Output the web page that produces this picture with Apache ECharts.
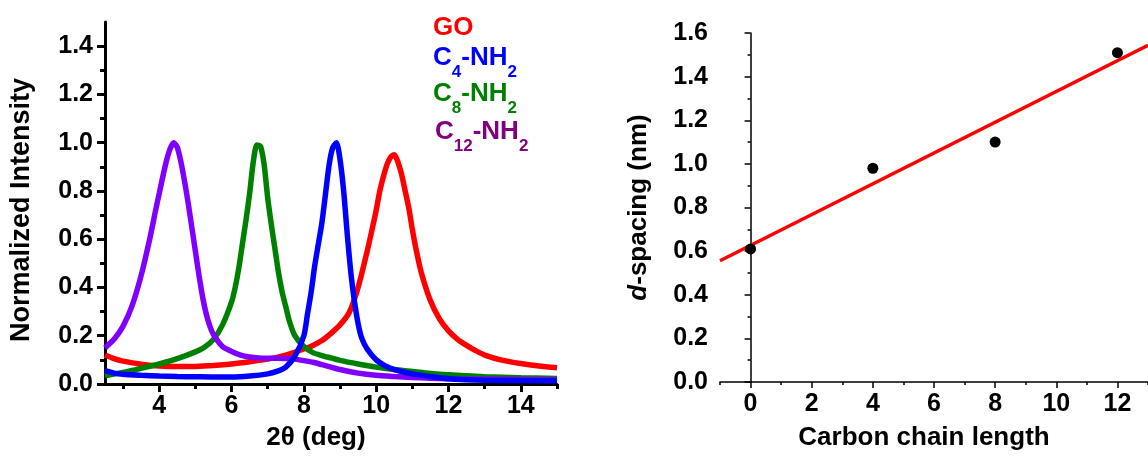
<!DOCTYPE html>
<html>
<head>
<meta charset="utf-8">
<script src="https://cdn.jsdelivr.net/npm/echarts@6/dist/echarts.min.js"></script>
<style>
html,body{margin:0;padding:0;background:#fff;}
#c{width:1148px;height:456px;}
</style>
</head>
<body>
<div id="c"></div>
<script>
// ---------- Left panel: XRD patterns (2θ, normalized intensity) ----------
const GO = [[2.5,0.12],[2.75,0.105],[3.0,0.095],[3.5,0.082],[4.0,0.075],[4.5,0.072],[5.0,0.073],[5.5,0.077],[6.0,0.083],[6.5,0.092],[7.0,0.103],[7.5,0.12],[8.0,0.145],[8.25,0.16],[8.5,0.18],[8.75,0.21],[9.0,0.245],[9.25,0.295],[9.5,0.4],[9.75,0.55],[9.9,0.65],[10.0,0.72],[10.1,0.8],[10.2,0.86],[10.3,0.91],[10.4,0.94],[10.5,0.95],[10.6,0.92],[10.7,0.87],[10.8,0.8],[10.9,0.73],[11.0,0.64],[11.1,0.56],[11.25,0.46],[11.5,0.345],[11.75,0.27],[12.0,0.22],[12.25,0.185],[12.5,0.16],[12.75,0.138],[13.0,0.12],[13.5,0.098],[14.0,0.085],[14.5,0.075],[15.0,0.067]];
const C4 = [[2.5,0.055],[2.75,0.045],[3.0,0.04],[3.5,0.036],[4.0,0.033],[4.5,0.031],[5.0,0.03],[5.5,0.029],[6.0,0.029],[6.5,0.033],[7.0,0.042],[7.25,0.052],[7.5,0.07],[7.75,0.115],[8.0,0.2],[8.1,0.29],[8.2,0.38],[8.3,0.49],[8.4,0.58],[8.5,0.67],[8.6,0.79],[8.7,0.91],[8.8,0.98],[8.9,1.0],[9.0,0.93],[9.1,0.8],[9.2,0.62],[9.3,0.46],[9.4,0.34],[9.5,0.25],[9.6,0.19],[9.75,0.145],[10.0,0.1],[10.25,0.075],[10.5,0.06],[11.0,0.042],[11.5,0.031],[12.0,0.022],[12.5,0.018],[13.0,0.016],[14.0,0.014],[15.0,0.013]];
const C8 = [[2.5,0.034],[3.0,0.048],[3.5,0.065],[4.0,0.083],[4.5,0.105],[5.0,0.133],[5.25,0.152],[5.5,0.185],[5.75,0.245],[6.0,0.34],[6.1,0.4],[6.2,0.48],[6.3,0.58],[6.4,0.68],[6.5,0.79],[6.6,0.92],[6.7,0.99],[6.8,0.985],[6.9,0.91],[7.0,0.77],[7.1,0.66],[7.2,0.56],[7.3,0.46],[7.4,0.38],[7.5,0.32],[7.6,0.26],[7.75,0.2],[8.0,0.155],[8.25,0.13],[8.5,0.118],[8.75,0.108],[9.0,0.098],[9.5,0.083],[10.0,0.07],[10.5,0.06],[11.0,0.052],[11.5,0.044],[12.0,0.038],[12.5,0.034],[13.0,0.03],[14.0,0.026],[15.0,0.023]];
const C12 = [[2.5,0.15],[2.75,0.185],[3.0,0.24],[3.25,0.325],[3.5,0.45],[3.75,0.61],[3.9,0.72],[4.0,0.79],[4.1,0.86],[4.2,0.925],[4.3,0.975],[4.4,1.0],[4.5,0.98],[4.6,0.92],[4.7,0.84],[4.8,0.75],[4.9,0.65],[5.0,0.55],[5.1,0.45],[5.2,0.36],[5.3,0.29],[5.4,0.24],[5.5,0.205],[5.75,0.155],[6.0,0.135],[6.25,0.12],[6.5,0.112],[6.75,0.108],[7.0,0.107],[7.25,0.107],[7.5,0.106],[7.75,0.103],[8.0,0.097],[8.25,0.09],[8.5,0.08],[8.75,0.07],[9.0,0.06],[9.5,0.045],[10.0,0.036],[10.5,0.031],[11.0,0.027],[11.5,0.024],[12.0,0.022],[13.0,0.02],[14.0,0.019],[15.0,0.018]];

const leftXLabels = [4,6,8,10,12,14];
const leftXMinor = [3,5,7,9,11,13,15];
const leftYLabels = [0,0.2,0.4,0.6,0.8,1.0,1.2,1.4];
const leftYMinor = [0.1,0.3,0.5,0.7,0.9,1.1,1.3];

// legend texts: [main, subscript, main, subscript]
const legendGO = [['GO', false]];
const legendC4 = [['C', false], ['4', true], ['-NH', false], ['2', true]];
const legendC8 = [['C', false], ['8', true], ['-NH', false], ['2', true]];
const legendC12 = [['C', false], ['12', true], ['-NH', false], ['2', true]];

// ---------- Right panel: d-spacing vs carbon chain length ----------
const chainLength = [0,4,8,12];
const dSpacing = [0.61,0.98,1.10,1.51];
const fitX = [-1,13];
const fitY = [0.556,1.544];

const rightXLabels = [0,2,4,6,8,10,12];
const rightXMinor = [-1,1,3,5,7,9,11,13];
const rightYLabels = [0,0.2,0.4,0.6,0.8,1.0,1.2,1.4,1.6];
const rightYMinor = [0.1,0.3,0.5,0.7,0.9,1.1,1.3,1.5];

const FF = '"Liberation Sans", Arial, Helvetica, sans-serif';
const tickFont = {fontFamily: FF, fontWeight: 'bold', fontSize: 25, color: '#000'};
const nameFont = {fontFamily: FF, fontWeight: 'bold', fontSize: 26, color: '#000'};

function zip(xs, ys){ return xs.map((x,i)=>[x, ys[i]]); }

const measureCtx = document.createElement('canvas').getContext('2d');
function legendEntry(parts, x, baseline, color){
  const MAIN = 26, SUB = 17, SUBDROP = 11;
  const els = [];
  let cx = x;
  parts.forEach(([t, sub]) => {
    const fs = sub ? SUB : MAIN;
    const font = 'bold ' + fs + 'px ' + FF;
    measureCtx.font = font;
    const w = measureCtx.measureText(t).width;
    const bl = baseline + (sub ? SUBDROP : 0);
    els.push({type: 'text', x: cx, y: bl - 0.3465 * fs,
      style: {text: t, fill: color, font: font, align: 'left', verticalAlign: 'middle'}});
    cx += w;
  });
  return els;
}

const chart = echarts.init(document.getElementById('c'), null, {renderer: 'canvas'});

function mainAxis(o){
  return Object.assign({type: 'value', splitLine: {show: false}}, o);
}

const option = {
  animation: false,
  backgroundColor: '#fff',
  grid: [
    {left: 105, top: 22, width: 452, bottom: 69.5},
    {left: 720, top: 33, right: -7, bottom: 70}
  ],
  xAxis: [
    mainAxis({gridIndex: 0, min: 2.5, max: 15, position: 'bottom',
      axisLine: {lineStyle: {color: '#000', width: 3}},
      axisTick: {show: true, length: 8, lineStyle: {color: '#000', width: 3}, customValues: leftXLabels},
      axisLabel: Object.assign({margin: 10, customValues: leftXLabels}, tickFont),
      name: '2θ (deg)', nameLocation: 'middle', nameGap: 41,
      nameTextStyle: Object.assign({padding: [0, 30, 0, 0]}, nameFont)
    }),
    mainAxis({gridIndex: 0, min: 2.5, max: 15, position: 'bottom',
      axisLine: {show: false},
      axisTick: {show: true, length: 5, lineStyle: {color: '#000', width: 3}, customValues: leftXMinor},
      axisLabel: {show: false}
    }),
    mainAxis({gridIndex: 1, min: -1, max: 13, position: 'bottom',
      axisLine: {lineStyle: {color: '#000', width: 1.5}},
      axisTick: {show: true, length: 6, lineStyle: {color: '#000', width: 1.5}, customValues: rightXLabels},
      axisLabel: Object.assign({margin: 10, customValues: rightXLabels}, tickFont),
      name: 'Carbon chain length', nameLocation: 'middle', nameGap: 43,
      nameTextStyle: Object.assign({padding: [0, 20, 0, 0]}, nameFont)
    }),
    mainAxis({gridIndex: 1, min: -1, max: 13, position: 'bottom',
      axisLine: {show: false},
      axisTick: {show: true, length: 3, lineStyle: {color: '#000', width: 1.5}, customValues: rightXMinor},
      axisLabel: {show: false}
    })
  ],
  yAxis: [
    mainAxis({gridIndex: 0, min: 0, max: 1.5, position: 'left',
      axisLine: {show: true, lineStyle: {color: '#000', width: 3}},
      axisTick: {show: true, length: 8, lineStyle: {color: '#000', width: 3}, customValues: leftYLabels},
      axisLabel: Object.assign({margin: 12, customValues: leftYLabels, formatter: v => v.toFixed(1)}, tickFont),
      name: 'Normalized Intensity', nameLocation: 'middle', nameGap: 70,
      nameTextStyle: Object.assign({}, nameFont, {fontSize: 27, padding: [0, 14, 0, 0]})
    }),
    mainAxis({gridIndex: 0, min: 0, max: 1.5, position: 'left',
      axisLine: {show: false},
      axisTick: {show: true, length: 5, lineStyle: {color: '#000', width: 3}, customValues: leftYMinor},
      axisLabel: {show: false}
    }),
    mainAxis({gridIndex: 1, min: 0, max: 1.6, position: 'left',
      axisLine: {show: true, lineStyle: {color: '#000', width: 1.5}},
      axisTick: {show: true, length: 6, lineStyle: {color: '#000', width: 1.5}, customValues: rightYLabels},
      axisLabel: Object.assign({margin: 12, customValues: rightYLabels, formatter: v => v.toFixed(1)}, tickFont),
      name: '{i|d}-spacing (nm)', nameLocation: 'middle', nameGap: 68,
      nameTextStyle: Object.assign({rich: {i: {fontFamily: FF, fontWeight: 'bold', fontStyle: 'italic', fontSize: 26, color: '#000'}}}, nameFont)
    }),
    mainAxis({gridIndex: 1, min: 0, max: 1.6, position: 'left',
      axisLine: {show: false},
      axisTick: {show: true, length: 3, lineStyle: {color: '#000', width: 1.5}, customValues: rightYMinor},
      axisLabel: {show: false}
    })
  ],
  series: [
    {name: 'GO', type: 'line', xAxisIndex: 0, yAxisIndex: 0, data: GO, showSymbol: false, smooth: 0.25,
      lineStyle: {color: '#ff0000', width: 5.5}, z: 2},
    {name: 'C8-NH2', type: 'line', xAxisIndex: 0, yAxisIndex: 0, data: C8, showSymbol: false, smooth: 0.25,
      lineStyle: {color: '#008000', width: 5.5}, z: 3},
    {name: 'C12-NH2', type: 'line', xAxisIndex: 0, yAxisIndex: 0, data: C12, showSymbol: false, smooth: 0.25,
      lineStyle: {color: '#8000ff', width: 5.5}, z: 4},
    {name: 'C4-NH2', type: 'line', xAxisIndex: 0, yAxisIndex: 0, data: C4, showSymbol: false, smooth: 0.25,
      lineStyle: {color: '#0000ff', width: 5.5}, z: 5},
    {name: 'fit', type: 'line', xAxisIndex: 2, yAxisIndex: 2, data: zip(fitX, fitY), showSymbol: false,
      lineStyle: {color: '#ff0000', width: 3.5}, z: 3},
    {name: 'd-spacing', type: 'scatter', xAxisIndex: 2, yAxisIndex: 2, data: zip(chainLength, dSpacing),
      symbol: 'circle', symbolSize: 11, itemStyle: {color: '#000', opacity: 1}, z: 4}
  ],
  graphic: [].concat(
    legendEntry(legendGO, 433, 37, '#ff0000'),
    legendEntry(legendC4, 433, 67, '#0000ff'),
    legendEntry(legendC8, 433, 103, '#008000'),
    legendEntry(legendC12, 435, 141, '#800080')
  )
};
chart.setOption(option);
</script>
</body>
</html>
